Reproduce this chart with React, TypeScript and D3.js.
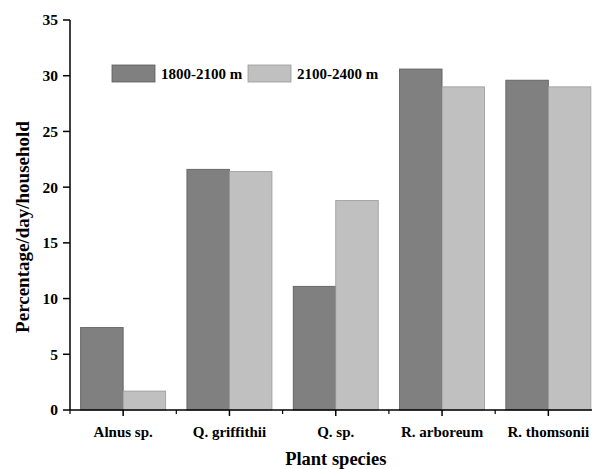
import React from "react";
import * as d3 from "d3";

const categories = ["Alnus sp.", "Q. griffithii", "Q. sp.", "R. arboreum", "R. thomsonii"];
const seriesNames = ["1800-2100 m", "2100-2400 m"];
const values1800 = [7.4, 21.6, 11.1, 30.6, 29.6];
const values2100 = [1.7, 21.4, 18.8, 29.0, 29.0];
const yTicks = [0, 5, 10, 15, 20, 25, 30, 35];
const colors = ["#808080", "#c0c0c0"];
const strokes = ["#5a5a5a", "#9a9a9a"];

export default function App() {
  const W = 592, H = 469;
  const x0 = 70, x1 = 601.5, yTop = 20, yBot = 410;
  const x = d3.scaleBand<string>().domain(categories).range([x0, x1]);
  const y = d3.scaleLinear().domain([0, 35]).range([yBot, yTop]);
  const bw = x.bandwidth();
  const barW = bw * 0.4;
  const font = "'Liberation Serif', 'Times New Roman', serif";
  const series = [values1800, values2100];
  const minorTicks = categories.slice(0, -1).map((c) => (x(c) as number) + bw);
  minorTicks.unshift(x0);
  return (
    <svg width={W} height={H} style={{ position: "absolute", left: 0, top: 0 }} fontFamily={font} fontWeight="bold">
      <rect width={W} height={H} fill="#fff" />
      {categories.map((c, i) =>
        series.map((s, k) => {
          const cx = (x(c) as number) + bw / 2;
          const bx = cx - barW + k * barW;
          return (
            <rect key={c + k} x={bx} y={y(s[i])} width={barW} height={yBot - y(s[i])}
              fill={colors[k]} stroke={strokes[k]} strokeWidth={0.8} />
          );
        })
      )}
      {/* y axis */}
      <line x1={x0} x2={x0} y1={yTop} y2={yBot} stroke="#000" strokeWidth={1.5} />
      {yTicks.map((t) => (
        <g key={t}>
          <line x1={x0 - 7} x2={x0} y1={y(t)} y2={y(t)} stroke="#000" strokeWidth={1.5} />
          <text x={x0 - 12} y={y(t)} dy="0.35em" textAnchor="end" fontSize={15.5}>{t}</text>
        </g>
      ))}
      {/* x axis */}
      <line x1={x0} x2={x1} y1={yBot} y2={yBot} stroke="#000" strokeWidth={1.5} />
      {categories.map((c) => {
        const cx = (x(c) as number) + bw / 2;
        return (
          <g key={c}>
            <line x1={cx} x2={cx} y1={yBot} y2={yBot + 6} stroke="#000" strokeWidth={1.5} />
            <text x={cx} y={yBot + 27} textAnchor="middle" fontSize={15}>{c}</text>
          </g>
        );
      })}
      {minorTicks.map((m, i) => (
        <line key={i} x1={m} x2={m} y1={yBot} y2={yBot + 4} stroke="#000" strokeWidth={1.2} />
      ))}
      <text x={(x0 + x1) / 2} y={yBot + 55} textAnchor="middle" fontSize={18.5}>Plant species</text>
      <text transform={`translate(29,227) rotate(-90)`} textAnchor="middle" fontSize={19}>Percentage/day/household</text>
      {/* legend */}
      {seriesNames.map((n, k) => {
        const lx = 112 + k * 136;
        return (
          <g key={n}>
            <rect x={lx} y={65} width={43} height={17} fill={colors[k]} stroke={strokes[k]} strokeWidth={0.8} />
            <text x={lx + 49} y={79} fontSize={15}>{n}</text>
          </g>
        );
      })}
    </svg>
  );
}
